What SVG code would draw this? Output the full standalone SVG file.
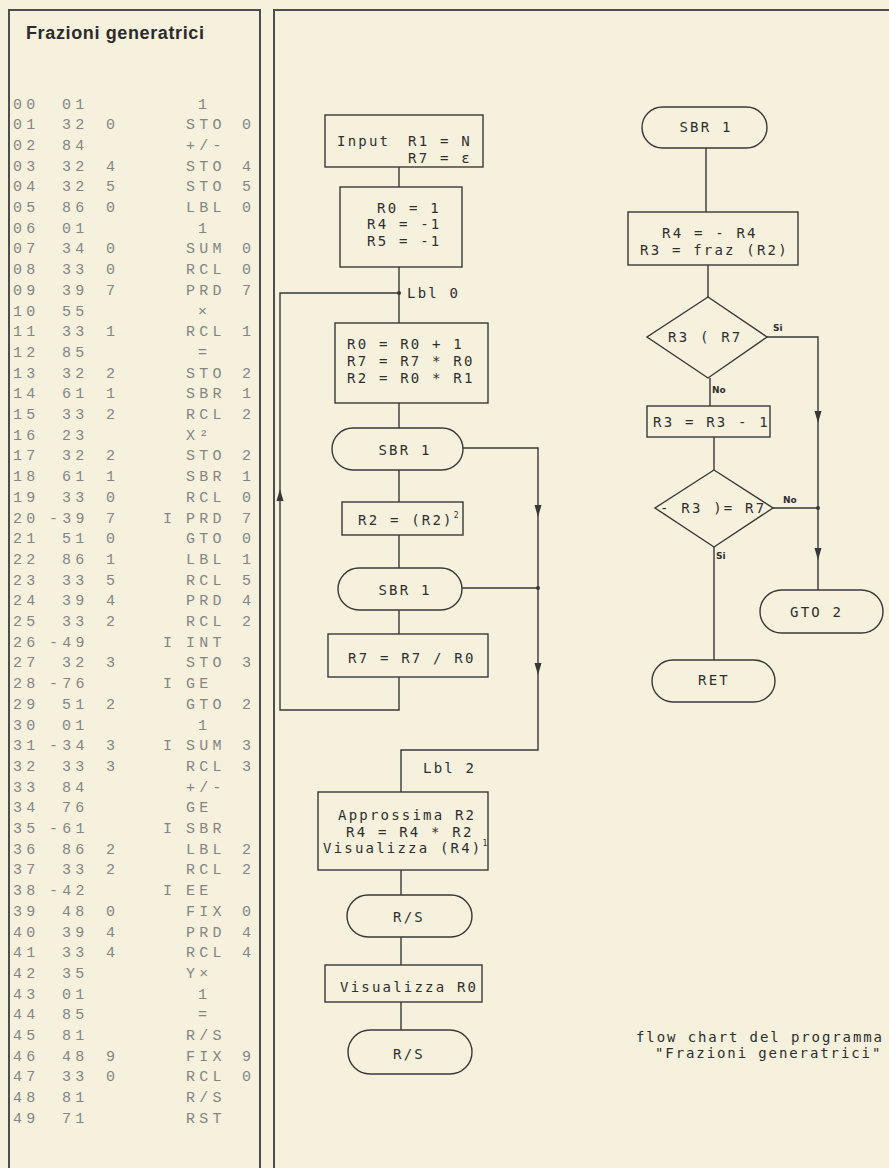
<svg xmlns="http://www.w3.org/2000/svg" width="889" height="1168" viewBox="0 0 889 1168">
<style>
.bg{fill:#f6f1dc}
.frame{fill:none;stroke:#4d4d4d;stroke-width:2}
.title{font-family:"Liberation Sans",Arial,sans-serif;font-weight:bold;font-size:18px;fill:#2b2b2b}
.l{font-family:"Liberation Mono","DejaVu Sans Mono",monospace;font-size:15px;letter-spacing:4.3px;fill:#858585}
.box{fill:none;stroke:#383838;stroke-width:1.4}
.ln{fill:none;stroke:#383838;stroke-width:1.4}
.t{font-family:"DejaVu Sans Mono",monospace;font-size:14px;letter-spacing:2.2px;fill:#2f2f2f}
.cap{letter-spacing:1.9px}
.sup{font-size:8px;letter-spacing:0}
.lab{font-family:"DejaVu Sans",sans-serif;font-size:9px;font-weight:bold;fill:#2f2f2f}
.dot{fill:#383838}
</style>
<defs>
<path id="ah" d="M0,6 L-3.5,-6 L3.5,-6 Z" fill="#383838"/>
</defs>
<rect class="bg" x="0" y="0" width="889" height="1168"/>
<path class="frame" d="M9,1168 V10 H260 V1168"/>
<path class="frame" d="M274,1168 V10 H889"/>
<text class="title" x="26" y="39" textLength="178" lengthAdjust="spacing">Frazioni generatrici</text>

<g id="listing">
<text class="l" y="108.5"><tspan x="13">00</tspan><tspan x="62">01</tspan><tspan x="198">1</tspan></text>
<text class="l" y="129.2"><tspan x="13">01</tspan><tspan x="62">32</tspan><tspan x="106">0</tspan><tspan x="186">STO</tspan><tspan x="242">0</tspan></text>
<text class="l" y="149.9"><tspan x="13">02</tspan><tspan x="62">84</tspan><tspan x="186">+/-</tspan></text>
<text class="l" y="170.6"><tspan x="13">03</tspan><tspan x="62">32</tspan><tspan x="106">4</tspan><tspan x="186">STO</tspan><tspan x="242">4</tspan></text>
<text class="l" y="191.3"><tspan x="13">04</tspan><tspan x="62">32</tspan><tspan x="106">5</tspan><tspan x="186">STO</tspan><tspan x="242">5</tspan></text>
<text class="l" y="212"><tspan x="13">05</tspan><tspan x="62">86</tspan><tspan x="106">0</tspan><tspan x="186">LBL</tspan><tspan x="242">0</tspan></text>
<text class="l" y="232.7"><tspan x="13">06</tspan><tspan x="62">01</tspan><tspan x="198">1</tspan></text>
<text class="l" y="253.4"><tspan x="13">07</tspan><tspan x="62">34</tspan><tspan x="106">0</tspan><tspan x="186">SUM</tspan><tspan x="242">0</tspan></text>
<text class="l" y="274.1"><tspan x="13">08</tspan><tspan x="62">33</tspan><tspan x="106">0</tspan><tspan x="186">RCL</tspan><tspan x="242">0</tspan></text>
<text class="l" y="294.8"><tspan x="13">09</tspan><tspan x="62">39</tspan><tspan x="106">7</tspan><tspan x="186">PRD</tspan><tspan x="242">7</tspan></text>
<text class="l" y="315.5"><tspan x="13">10</tspan><tspan x="62">55</tspan><tspan x="198">×</tspan></text>
<text class="l" y="336.2"><tspan x="13">11</tspan><tspan x="62">33</tspan><tspan x="106">1</tspan><tspan x="186">RCL</tspan><tspan x="242">1</tspan></text>
<text class="l" y="356.9"><tspan x="13">12</tspan><tspan x="62">85</tspan><tspan x="198">=</tspan></text>
<text class="l" y="377.6"><tspan x="13">13</tspan><tspan x="62">32</tspan><tspan x="106">2</tspan><tspan x="186">STO</tspan><tspan x="242">2</tspan></text>
<text class="l" y="398.3"><tspan x="13">14</tspan><tspan x="62">61</tspan><tspan x="106">1</tspan><tspan x="186">SBR</tspan><tspan x="242">1</tspan></text>
<text class="l" y="419"><tspan x="13">15</tspan><tspan x="62">33</tspan><tspan x="106">2</tspan><tspan x="186">RCL</tspan><tspan x="242">2</tspan></text>
<text class="l" y="439.7"><tspan x="13">16</tspan><tspan x="62">23</tspan><tspan x="186">X²</tspan></text>
<text class="l" y="460.4"><tspan x="13">17</tspan><tspan x="62">32</tspan><tspan x="106">2</tspan><tspan x="186">STO</tspan><tspan x="242">2</tspan></text>
<text class="l" y="481.1"><tspan x="13">18</tspan><tspan x="62">61</tspan><tspan x="106">1</tspan><tspan x="186">SBR</tspan><tspan x="242">1</tspan></text>
<text class="l" y="501.8"><tspan x="13">19</tspan><tspan x="62">33</tspan><tspan x="106">0</tspan><tspan x="186">RCL</tspan><tspan x="242">0</tspan></text>
<text class="l" y="522.5"><tspan x="13">20</tspan><tspan x="49">-39</tspan><tspan x="106">7</tspan><tspan x="163">I</tspan><tspan x="186">PRD</tspan><tspan x="242">7</tspan></text>
<text class="l" y="543.2"><tspan x="13">21</tspan><tspan x="62">51</tspan><tspan x="106">0</tspan><tspan x="186">GTO</tspan><tspan x="242">0</tspan></text>
<text class="l" y="563.9"><tspan x="13">22</tspan><tspan x="62">86</tspan><tspan x="106">1</tspan><tspan x="186">LBL</tspan><tspan x="242">1</tspan></text>
<text class="l" y="584.6"><tspan x="13">23</tspan><tspan x="62">33</tspan><tspan x="106">5</tspan><tspan x="186">RCL</tspan><tspan x="242">5</tspan></text>
<text class="l" y="605.3"><tspan x="13">24</tspan><tspan x="62">39</tspan><tspan x="106">4</tspan><tspan x="186">PRD</tspan><tspan x="242">4</tspan></text>
<text class="l" y="626"><tspan x="13">25</tspan><tspan x="62">33</tspan><tspan x="106">2</tspan><tspan x="186">RCL</tspan><tspan x="242">2</tspan></text>
<text class="l" y="646.7"><tspan x="13">26</tspan><tspan x="49">-49</tspan><tspan x="163">I</tspan><tspan x="186">INT</tspan></text>
<text class="l" y="667.4"><tspan x="13">27</tspan><tspan x="62">32</tspan><tspan x="106">3</tspan><tspan x="186">STO</tspan><tspan x="242">3</tspan></text>
<text class="l" y="688.1"><tspan x="13">28</tspan><tspan x="49">-76</tspan><tspan x="163">I</tspan><tspan x="186">GE</tspan></text>
<text class="l" y="708.8"><tspan x="13">29</tspan><tspan x="62">51</tspan><tspan x="106">2</tspan><tspan x="186">GTO</tspan><tspan x="242">2</tspan></text>
<text class="l" y="729.5"><tspan x="13">30</tspan><tspan x="62">01</tspan><tspan x="198">1</tspan></text>
<text class="l" y="750.2"><tspan x="13">31</tspan><tspan x="49">-34</tspan><tspan x="106">3</tspan><tspan x="163">I</tspan><tspan x="186">SUM</tspan><tspan x="242">3</tspan></text>
<text class="l" y="770.9"><tspan x="13">32</tspan><tspan x="62">33</tspan><tspan x="106">3</tspan><tspan x="186">RCL</tspan><tspan x="242">3</tspan></text>
<text class="l" y="791.6"><tspan x="13">33</tspan><tspan x="62">84</tspan><tspan x="186">+/-</tspan></text>
<text class="l" y="812.3"><tspan x="13">34</tspan><tspan x="62">76</tspan><tspan x="186">GE</tspan></text>
<text class="l" y="833"><tspan x="13">35</tspan><tspan x="49">-61</tspan><tspan x="163">I</tspan><tspan x="186">SBR</tspan></text>
<text class="l" y="853.7"><tspan x="13">36</tspan><tspan x="62">86</tspan><tspan x="106">2</tspan><tspan x="186">LBL</tspan><tspan x="242">2</tspan></text>
<text class="l" y="874.4"><tspan x="13">37</tspan><tspan x="62">33</tspan><tspan x="106">2</tspan><tspan x="186">RCL</tspan><tspan x="242">2</tspan></text>
<text class="l" y="895.1"><tspan x="13">38</tspan><tspan x="49">-42</tspan><tspan x="163">I</tspan><tspan x="186">EE</tspan></text>
<text class="l" y="915.8"><tspan x="13">39</tspan><tspan x="62">48</tspan><tspan x="106">0</tspan><tspan x="186">FIX</tspan><tspan x="242">0</tspan></text>
<text class="l" y="936.5"><tspan x="13">40</tspan><tspan x="62">39</tspan><tspan x="106">4</tspan><tspan x="186">PRD</tspan><tspan x="242">4</tspan></text>
<text class="l" y="957.2"><tspan x="13">41</tspan><tspan x="62">33</tspan><tspan x="106">4</tspan><tspan x="186">RCL</tspan><tspan x="242">4</tspan></text>
<text class="l" y="977.9"><tspan x="13">42</tspan><tspan x="62">35</tspan><tspan x="186">Y×</tspan></text>
<text class="l" y="998.6"><tspan x="13">43</tspan><tspan x="62">01</tspan><tspan x="198">1</tspan></text>
<text class="l" y="1019.3"><tspan x="13">44</tspan><tspan x="62">85</tspan><tspan x="198">=</tspan></text>
<text class="l" y="1040"><tspan x="13">45</tspan><tspan x="62">81</tspan><tspan x="186">R/S</tspan></text>
<text class="l" y="1060.7"><tspan x="13">46</tspan><tspan x="62">48</tspan><tspan x="106">9</tspan><tspan x="186">FIX</tspan><tspan x="242">9</tspan></text>
<text class="l" y="1081.4"><tspan x="13">47</tspan><tspan x="62">33</tspan><tspan x="106">0</tspan><tspan x="186">RCL</tspan><tspan x="242">0</tspan></text>
<text class="l" y="1102.1"><tspan x="13">48</tspan><tspan x="62">81</tspan><tspan x="186">R/S</tspan></text>
<text class="l" y="1122.8"><tspan x="13">49</tspan><tspan x="62">71</tspan><tspan x="186">RST</tspan></text>
</g>

<g id="connectors">
<path class="ln" d="M399,167 V187 M399,267 V323 M399,403 V428 M399,470 V502 M399,535 V568 M399,610 V634"/>
<path class="ln" d="M399,677 V710 H280 V293 H399"/>
<path class="ln" d="M463,448 H538 V750 H401 V792"/>
<path class="ln" d="M462,588 H538"/>
<path class="ln" d="M401,870 V895 M401,937 V965 M401,1002 V1030"/>
<path class="ln" d="M706,148 V212 M708,265 V297 M710,378 V406 M714,437 V470 M714,547 V660"/>
<path class="ln" d="M767,337 H818 V590"/>
<path class="ln" d="M773,508 H818"/>
<circle class="dot" cx="399" cy="293" r="2"/>
<circle class="dot" cx="538" cy="588" r="2"/>
<circle class="dot" cx="818" cy="508" r="2"/>
<use href="#ah" x="538" y="511"/>
<use href="#ah" x="538" y="669"/>
<use href="#ah" transform="translate(280,495) rotate(180)"/>
<use href="#ah" x="818" y="417"/>
<use href="#ah" x="818" y="554"/>
<text class="t" x="407" y="298">Lbl 0</text>
<text class="t" x="423" y="773">Lbl 2</text>
<text class="lab" x="773" y="331">Si</text>
<text class="lab" x="712" y="393">No</text>
<text class="lab" x="783" y="503">No</text>
<text class="lab" x="716" y="559">Si</text>
</g>

<g id="n_input">
<rect class="box" x="325" y="115" width="158" height="52"/>
<text class="t" x="337" y="146">Input</text>
<text class="t" x="408" y="146">R1 = N</text>
<text class="t" x="408" y="163">R7 = ε</text>
</g>
<g id="n_init">
<rect class="box" x="340" y="187" width="122" height="80"/>
<text class="t" x="377" y="213">R0 = 1</text>
<text class="t" x="367" y="229">R4 = -1</text>
<text class="t" x="367" y="246">R5 = -1</text>
</g>
<g id="n_loop">
<rect class="box" x="335" y="323" width="153" height="80"/>
<text class="t" x="347" y="349">R0 = R0 + 1</text>
<text class="t" x="347" y="366">R7 = R7 * R0</text>
<text class="t" x="347" y="383">R2 = R0 * R1</text>
</g>
<g id="n_sbr1a">
<rect class="box" x="332" y="428" width="131" height="42" rx="21"/>
<text class="t" x="405" y="455" text-anchor="middle">SBR 1</text>
</g>
<g id="n_sq">
<rect class="box" x="342" y="502" width="121" height="33"/>
<text class="t" x="358" y="525">R2 = (R2)<tspan class="sup" dy="-7">2</tspan></text>
</g>
<g id="n_sbr1b">
<rect class="box" x="338" y="568" width="124" height="42" rx="21"/>
<text class="t" x="405" y="595" text-anchor="middle">SBR 1</text>
</g>
<g id="n_div">
<rect class="box" x="328" y="634" width="160" height="43"/>
<text class="t" x="348" y="663">R7 = R7 / R0</text>
</g>
<g id="n_appr">
<rect class="box" x="318" y="792" width="170" height="78"/>
<text class="t" x="338" y="820">Approssima R2</text>
<text class="t" x="346" y="837">R4 = R4 * R2</text>
<text class="t" x="323" y="853">Visualizza (R4)<tspan class="sup" dy="-7">1</tspan></text>
</g>
<g id="n_rs1">
<rect class="box" x="347" y="895" width="125" height="42" rx="21"/>
<text class="t" x="409" y="922" text-anchor="middle">R/S</text>
</g>
<g id="n_vis">
<rect class="box" x="325" y="965" width="157" height="37"/>
<text class="t" x="340" y="992">Visualizza R0</text>
</g>
<g id="n_rs2">
<rect class="box" x="348" y="1030" width="124" height="44" rx="22"/>
<text class="t" x="409" y="1059" text-anchor="middle">R/S</text>
</g>

<g id="n_sbr">
<rect class="box" x="642" y="107" width="125" height="41" rx="20.5"/>
<text class="t" x="706" y="132" text-anchor="middle">SBR 1</text>
</g>
<g id="n_fraz">
<rect class="box" x="628" y="212" width="170" height="53"/>
<text class="t" x="662" y="238">R4 = - R4</text>
<text class="t" x="640" y="255">R3 = fraz (R2)</text>
</g>
<g id="n_d1">
<polygon class="box" points="708,297 767,337 708,378 647,337"/>
<text class="t" x="668" y="342">R3 ( R7</text>
</g>
<g id="n_r3m1">
<rect class="box" x="647" y="406" width="123" height="31"/>
<text class="t" x="653" y="427">R3 = R3 - 1</text>
</g>
<g id="n_d2">
<polygon class="box" points="714,470 773,508 714,547 655,508"/>
<text class="t" x="660" y="513">- R3 )= R7</text>
</g>
<g id="n_gto">
<rect class="box" x="760" y="590" width="123" height="43" rx="21.5"/>
<text class="t" x="790" y="617">GTO 2</text>
</g>
<g id="n_ret">
<rect class="box" x="652" y="660" width="123" height="42" rx="21"/>
<text class="t" x="698" y="685">RET</text>
</g>

<g id="caption">
<text class="t cap" x="636" y="1042">flow chart del programma</text>
<text class="t cap" x="655" y="1058">"Frazioni generatrici"</text>
</g>
</svg>
